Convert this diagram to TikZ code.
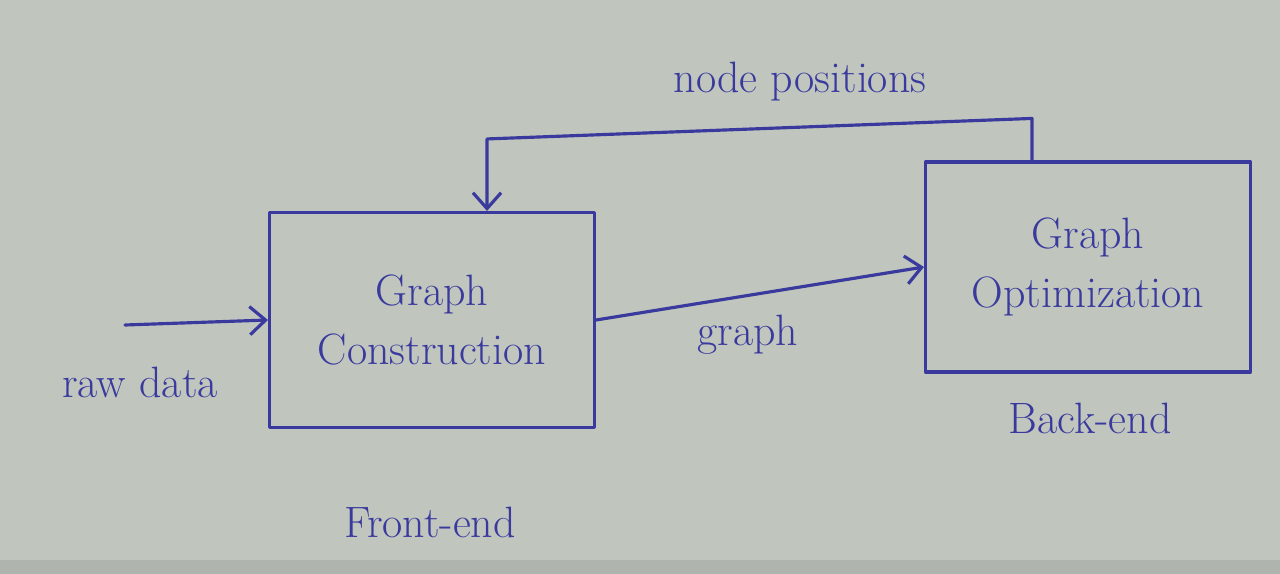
\documentclass[tikz,border=0pt]{standalone}
\usepackage{tikz}
\usetikzlibrary{arrows.meta}
\usetikzlibrary{positioning,calc}
\definecolor{paper}{RGB}{192,198,189}
\definecolor{paperlow}{RGB}{176,180,174}
\definecolor{ink}{RGB}{58,58,158}

\begin{document}
\begin{tikzpicture}[x=0.02cm,y=-0.02cm,
    ink line/.style={draw=ink,line width=1.8pt,line cap=round,line join=round},
    flow/.style={ink line,-{Straight Barb[length=9pt,width=16pt,line width=1.8pt]}},
    blockbox/.style={ink line,minimum width=6.5cm,minimum height=4.3cm,align=center,
      text=ink,font=\fontsize{25}{34}\selectfont},
    note/.style={text=ink,font=\fontsize{25}{30}\selectfont}]
    % paper
    \fill[paper] (0,0) rectangle (1280,574);
    \fill[paperlow] (0,560) rectangle (1280,574);
    \useasboundingbox (0,0) rectangle (1280,574);
    % blocks
    \node[blockbox] (construct) at (432,320) {Graph\\Construction};
    \node[blockbox,minimum height=4.2cm] (optimize) at (1088,267) {Graph\\Optimization};
    % input
    \coordinate (rawin) at (125,325);
    \draw[flow] (rawin) -- (construct.west);
    \node[note] (rawlabel) at (140,382) {raw data};
    % forward edge
    \draw[flow] (construct.east) -- (optimize.west);
    \node[note] (graphlabel) at (748,335) {graph};
    % feedback edge
    \coordinate (upright) at ($(optimize.north)+(-56,-42)$);
    \coordinate (upleft) at ($(construct.north)+(55,-72)$);
    \draw[flow] ($(optimize.north)+(-56,0)$) -- (upright) -- (upleft)
      -- ($(construct.north)+(55,0)$);
    \node[note] (poslabel) at (800,82) {node positions};
    % stage labels
    \node[note] (frontlabel) at (430,522) {Front-end};
    \node[note] (backlabel) at (1090,418) {Back-end};
  \end{tikzpicture}
\end{document}
